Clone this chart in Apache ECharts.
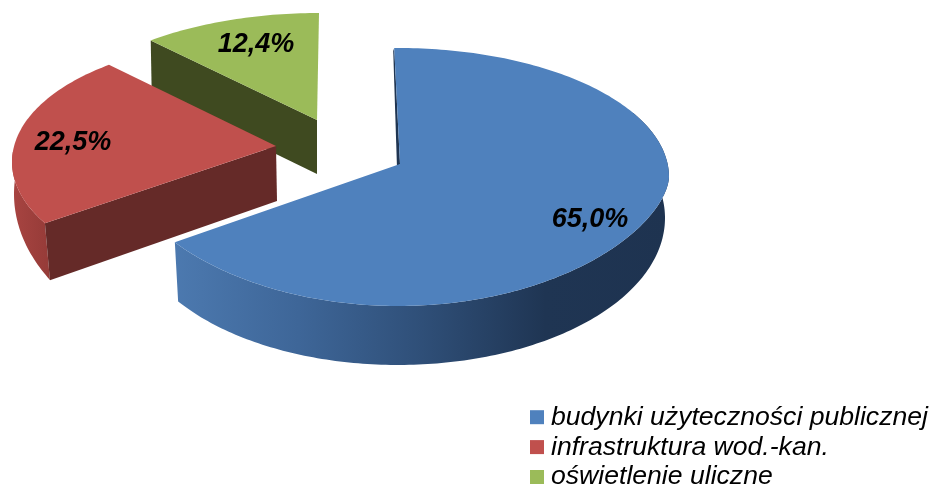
<!DOCTYPE html>
<html>
<head>
<meta charset="utf-8">
<style>html,body{margin:0;padding:0;background:#fff}#c{width:932px;height:486px}</style>
<script src="https://cdn.jsdelivr.net/npm/echarts@6/dist/echarts.min.js"></script>
</head>
<body>
<div id="c"></div>
<script>
const categories = ['budynki użyteczności publicznej', 'infrastruktura wod.-kan.', 'oświetlenie uliczne'];
const values = [65.0, 22.5, 12.4];
const colors = ['#4f81bd', '#c0504d', '#9bbb59'];
const total = values.reduce((a, b) => a + b, 0);

// Layout of each exploded slice in the 3D view (top ellipse, bottom ellipse, apex).
const views = [
  { z: 3, cx: 398, cy: 177, rx: 271, ry: 129, pow: 1.2, bx: 398, by: 218, brx: 267, bry: 147,
    tip: [400, 164], tipDrop: [-3, 4], cutDrop: [-1, 3], s0: -0.8, s1: 1.2, wall: [60, 999],
    cut: '#1f3552', label: [590, 219.5],
    wallFill: [[0, '#4c79af'], [0.25, '#3e6698'], [0.5, '#2f4f78'], [0.75, '#1f3553'], [1, '#1e3350']] },
  { z: 2, cx: 252, cy: 162, rx: 240, ry: 121, pow: 1, bx: 276, by: 194, brx: 262, bry: 170,
    tip: [276, 146], tipDrop: [1, 55], cutDrop: [5, 57], s0: 5.4, s1: 8.1, wall: [0, 275],
    cut: '#652a28', label: [73, 143],
    wallFill: [[0, '#a84441'], [1, '#953b38']] },
  { z: 1, cx: 319, cy: 140, rx: 271, ry: 127, pow: 1, bx: 319, by: 195, brx: 271, bry: 127,
    tip: [317, 120], tipDrop: [0, 54], cutDrop: [1, 53], s0: 6.3, s1: 0, wall: [0, 0],
    cut: '#3f4a20', label: [256, 44.5],
    wallFill: [[0, '#3f4a20'], [1, '#3f4a20']] }
];

const rad = d => d * Math.PI / 180;
function pt(cx, cy, rx, ry, t, p) {
  const c = Math.cos(rad(t));
  const k = c < 0 && p ? -Math.pow(-c, p) : c;
  return [cx + rx * Math.sin(rad(t)), cy - ry * k];
}
function arc(cx, cy, rx, ry, a, b, p) {
  const out = [], n = Math.max(2, Math.ceil(Math.abs(b - a)));
  for (let i = 0; i <= n; i++) out.push(pt(cx, cy, rx, ry, a + (b - a) * i / n, p));
  return out;
}
function angles(i) {
  let before = 0;
  for (let k = 0; k < i; k++) before += values[k];
  const a = before / total * 360, b = (before + values[i]) / total * 360;
  return [a + views[i].s0, b + views[i].s1];
}
function renderSlice(i) {
  return function () {
    const v = views[i], [t0, t1] = angles(i), children = [];
    const wa = Math.max(t0, v.wall[0]), wb = Math.min(t1, v.wall[1]);
    if (wb > wa) {
      const top = arc(v.cx, v.cy, v.rx, v.ry, wa, wb, v.pow);
      const bot = arc(v.bx, v.by, v.brx, v.bry, wb, wa);
      children.push({ type: 'polygon', shape: { points: top.concat(bot) },
        style: { fill: { type: 'linear', x: 0, y: 0, x2: 1, y2: 0,
          colorStops: v.wallFill.map(s => ({ offset: s[0], color: s[1] })) } } });
    }
    const o = pt(v.cx, v.cy, v.rx, v.ry, t0, v.pow);
    children.push({ type: 'polygon',
      shape: { points: [o, v.tip, [v.tip[0] + v.tipDrop[0], v.tip[1] + v.tipDrop[1]],
                        [o[0] + v.cutDrop[0], o[1] + v.cutDrop[1]]] },
      style: { fill: v.cut } });
    children.push({ type: 'polygon',
      shape: { points: [v.tip].concat(arc(v.cx, v.cy, v.rx, v.ry, t0, t1, v.pow)) },
      style: { fill: colors[i] } });
    children.push({ type: 'text', x: v.label[0], y: v.label[1],
      style: { text: values[i].toFixed(1).replace('.', ',') + '%', align: 'center', verticalAlign: 'middle',
        font: 'italic bold 27px "Liberation Sans", Arial, sans-serif', fill: '#000' } });
    return { type: 'group', children };
  };
}

const chart = echarts.init(document.getElementById('c'), null, { renderer: 'canvas' });
chart.setOption({
  animation: false,
  backgroundColor: '#fff',
  legend: {
    show: true, orient: 'vertical', left: 530, top: 403.7, height: 120, padding: 0,
    itemWidth: 14, itemHeight: 14, itemGap: 2.9, icon: 'rect',
    data: categories, selectedMode: false,
    textStyle: { fontFamily: '"Liberation Sans", Arial, sans-serif', fontStyle: 'italic', fontSize: 26.6,
      color: '#000', padding: [0, 0, 0, 2] }
  },
  series: categories.map((name, i) => ({
    type: 'custom', name, coordinateSystem: 'none', z: views[i].z, silent: true,
    itemStyle: { color: colors[i] },
    data: [values[i]],
    renderItem: renderSlice(i)
  }))
});
</script>
</body>
</html>
